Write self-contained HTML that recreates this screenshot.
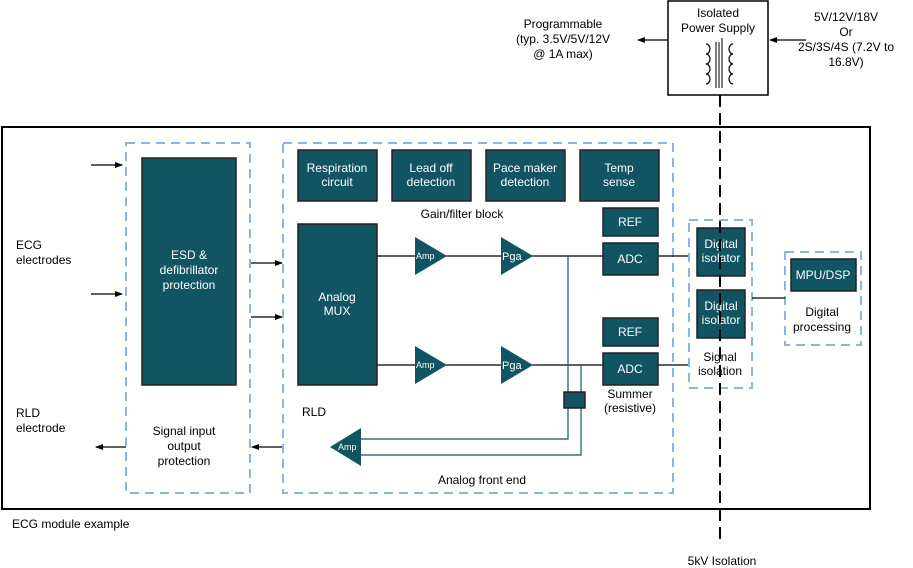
<!DOCTYPE html>
<html><head><style>
body{margin:0;background:#fff}
svg{display:block;font-family:"Liberation Sans",sans-serif}
.b{fill:#115563;stroke:#222;stroke-width:1.5}
.w{fill:#fff;font-size:12px;text-anchor:middle}
.t{fill:#000;font-size:12px;text-anchor:middle}
.d{fill:none;stroke:#8fb4e3;stroke-width:2;stroke-dasharray:9,6}
.l{stroke:#000;stroke-width:1.2;fill:none}
</style></head><body>
<svg width="913" height="568" viewBox="0 0 913 568">
<defs><marker id="a" markerWidth="8" markerHeight="8" refX="7" refY="4" orient="auto" markerUnits="userSpaceOnUse"><path d="M0,1 L8,4 L0,7z" fill="#000"/></marker></defs>
<rect x="2" y="127" width="868" height="382" fill="none" stroke="#000" stroke-width="2"/>
<text x="12" y="528" font-size="12">ECG module example</text>
<rect x="668" y="1" width="100" height="94" fill="#fff" stroke="#000" stroke-width="1.5"/>
<text class="t" x="718" y="17">Isolated</text><text class="t" x="718" y="32">Power Supply</text>
<path d="M716,42 v46 M719,42 v46 M722,38 v50" stroke="#000" stroke-width="1"/>
<path d="M706,44 a4,5 0 0 1 0,10 a4,5 0 0 1 0,10 a4,5 0 0 1 0,10 a4,5 0 0 1 0,10 M733,44 a4,5 0 0 0 0,10 a4,5 0 0 0 0,10 a4,5 0 0 0 0,10 a4,5 0 0 0 0,10" class="l" stroke-width="1"/>
<line x1="668" y1="40" x2="638" y2="40" class="l" marker-end="url(#a)"/>
<line x1="806" y1="40" x2="770" y2="40" class="l" marker-end="url(#a)"/>
<text class="t" x="563" y="28">Programmable</text><text class="t" x="563" y="43">(typ. 3.5V/5V/12V</text><text class="t" x="563" y="58">@ 1A max)</text>
<text class="t" x="846" y="21">5V/12V/18V</text><text class="t" x="846" y="36">Or</text><text class="t" x="846" y="51">2S/3S/4S (7.2V to</text><text class="t" x="846" y="66">16.8V)</text>
<text x="16" y="249" font-size="12">ECG</text><text x="16" y="264" font-size="12">electrodes</text>
<text x="16" y="417" font-size="12">RLD</text><text x="16" y="432" font-size="12">electrode</text>
<rect class="d" x="126" y="143" width="124" height="350"/>
<rect class="b" x="142" y="158" width="94" height="227"/>
<text class="w" x="189" y="259">ESD &amp;</text><text class="w" x="189" y="274">defibrillator</text><text class="w" x="189" y="289">protection</text>
<text class="t" x="184" y="435">Signal input</text><text class="t" x="184" y="450">output</text><text class="t" x="184" y="465">protection</text>
<line x1="91" y1="165" x2="122" y2="165" class="l" marker-end="url(#a)"/>
<line x1="91" y1="294" x2="122" y2="294" class="l" marker-end="url(#a)"/>
<line x1="251" y1="263" x2="282" y2="263" class="l" marker-end="url(#a)"/>
<line x1="251" y1="317" x2="282" y2="317" class="l" marker-end="url(#a)"/>
<line x1="126" y1="447" x2="96" y2="447" class="l" marker-end="url(#a)"/>
<line x1="283" y1="447" x2="252" y2="447" class="l" marker-end="url(#a)"/>
<rect class="d" x="283" y="143" width="390" height="350"/>
<rect class="b" x="298" y="150" width="79" height="51"/><text class="w" x="337" y="172">Respiration</text><text class="w" x="337" y="186">circuit</text>
<rect class="b" x="392" y="150" width="79" height="51"/><text class="w" x="431" y="172">Lead off</text><text class="w" x="431" y="186">detection</text>
<rect class="b" x="486" y="150" width="79" height="51"/><text class="w" x="525" y="172">Pace maker</text><text class="w" x="525" y="186">detection</text>
<rect class="b" x="580" y="150" width="79" height="51"/><text class="w" x="619" y="172">Temp</text><text class="w" x="619" y="186">sense</text>
<text class="t" x="462" y="218">Gain/filter block</text>
<rect class="b" x="298" y="224" width="79" height="161"/><text class="w" x="337" y="301">Analog</text><text class="w" x="337" y="315">MUX</text>
<line x1="377" y1="256" x2="690" y2="256" class="l"/>
<line x1="377" y1="365" x2="690" y2="365" class="l"/>
<g fill="#115563"><path d="M415,237 L447,256 L415,275z"/><path d="M501,237 L533,256 L501,275z"/><path d="M415,346 L447,365 L415,384z"/><path d="M501,346 L533,365 L501,384z"/><path d="M330,447 L361,428 L361,466z"/></g>
<g fill="#fff" font-size="9"><text x="416" y="259">Amp</text><text x="416" y="368">Amp</text><text x="338" y="450">Amp</text></g>
<g fill="#fff" font-size="11"><text x="502" y="260">Pga</text><text x="502" y="369">Pga</text></g>
<rect class="b" x="603" y="208" width="55" height="28"/><text class="w" x="630" y="226">REF</text>
<rect class="b" x="603" y="243" width="55" height="32"/><text class="w" x="630" y="263">ADC</text>
<rect class="b" x="603" y="318" width="55" height="28"/><text class="w" x="630" y="336">REF</text>
<rect class="b" x="603" y="353" width="55" height="32"/><text class="w" x="630" y="373">ADC</text>
<path d="M568,256 V439 H361 M581,365 V455 H361" stroke="#115563" stroke-width="1.2" fill="none"/>
<rect class="b" x="564" y="392" width="21" height="16"/>
<text class="t" x="630" y="398">Summer</text><text class="t" x="630" y="412">(resistive)</text>
<text x="302" y="416" font-size="12">RLD</text>
<text class="t" x="482" y="484">Analog front end</text>
<rect class="d" x="689" y="220" width="63" height="168"/>
<rect class="b" x="697" y="228" width="48" height="48"/><text class="w" x="721" y="248">Digital</text><text class="w" x="721" y="262">isolator</text>
<rect class="b" x="697" y="290" width="48" height="48"/><text class="w" x="721" y="310">Digital</text><text class="w" x="721" y="324">isolator</text>
<text class="t" x="720" y="361">Signal</text><text class="t" x="720" y="375">isolation</text>
<line x1="720" y1="95" x2="720" y2="545" stroke="#000" stroke-width="2" stroke-dasharray="12,6"/>
<text class="t" x="722" y="565">5kV Isolation</text>
<rect class="d" x="785" y="252" width="76" height="93"/>
<rect class="b" x="791" y="259" width="65" height="32"/><text class="w" x="823" y="279">MPU/DSP</text>
<text class="t" x="822" y="316">Digital</text><text class="t" x="822" y="331">processing</text>
<line x1="752" y1="298" x2="785" y2="298" class="l"/>
</svg>
</body></html>
